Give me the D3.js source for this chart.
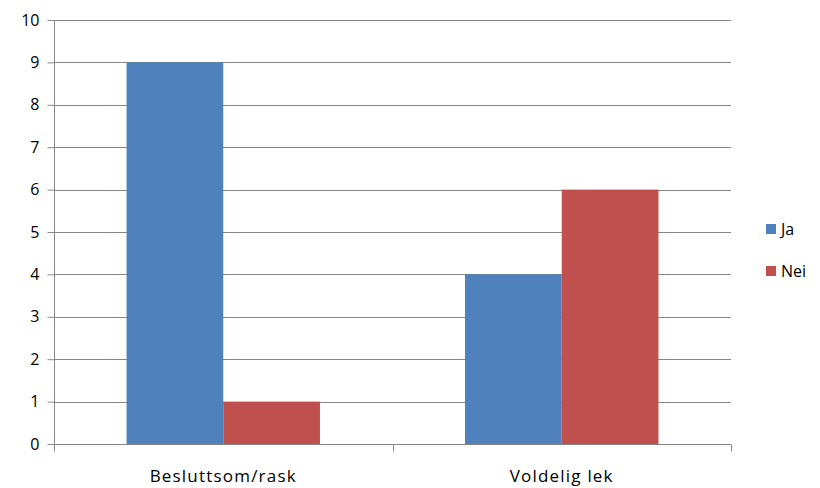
<!DOCTYPE html>
<html>
<head>
<meta charset="utf-8">
<script src="https://cdn.jsdelivr.net/npm/d3@7"></script>
<style>
  body { margin: 0; background: #fff; }
  text { font-family: "Open Sans", "Noto Sans", sans-serif; fill: #000; }
</style>
</head>
<body>
<script>
(() => {
    var categories = ["Besluttsom/rask", "Voldelig lek"];
    var seriesNames = ["Ja", "Nei"];
    var ja = [9, 4];
    var nei = [1, 6];
    var yTicks = [0, 1, 2, 3, 4, 5, 6, 7, 8, 9, 10];
    var colors = ["#4F81BD", "#C0504D"];

    var W = 820, H = 488;
    var margin = { top: 20, bottom: 44, left: 54, right: 89 };
    var w = W - margin.left - margin.right,
        h = H - margin.top - margin.bottom;

    var svg = d3.select("body").append("svg").attr("width", W).attr("height", H);
    var graph = svg.append("g").attr("transform", "translate(" + [margin.left, margin.top] + ")");

    var x = d3.scaleBand().domain(categories).range([0, w]).paddingInner(0).paddingOuter(0);
    var inner = d3.scaleBand().domain(seriesNames).range([0, x.bandwidth()]).paddingInner(0).paddingOuter(0.75);
    var y = d3.scaleLinear().domain([0, 10]).range([h, 0]);

    // gridlines
    graph.selectAll(".grid").data(yTicks).enter().append("line")
        .attr("x1", 0).attr("x2", w)
        .attr("y1", d => Math.round(y(d)) + 0.5).attr("y2", d => Math.round(y(d)) + 0.5)
        .attr("stroke", "#868686").attr("stroke-width", 1);

    var data = categories.map((c, i) => ({ cat: c, vals: [ja[i], nei[i]] }));
    var groups = graph.selectAll(".cat").data(data).enter().append("g")
        .attr("transform", d => "translate(" + x(d.cat) + ",0)");
    groups.selectAll("rect").data(d => d.vals.map((v, j) => ({ s: seriesNames[j], v: v, c: colors[j] })))
        .enter().append("rect")
        .attr("x", d => inner(d.s))
        .attr("width", inner.bandwidth())
        .attr("y", d => y(d.v))
        .attr("height", d => y(0) - y(d.v))
        .attr("fill", d => d.c);

    // y axis
    var yAxis = graph.append("g").attr("transform", "translate(0.5,0)")
        .call(d3.axisLeft(y).tickValues(yTicks).tickSize(7).tickPadding(8).tickFormat(d3.format("d")));
    yAxis.select(".domain").attr("stroke", "#868686").attr("d", "M0," + y(10) + "V" + (y(0) + 0.5));
    yAxis.selectAll(".tick line").attr("stroke", "#868686");
    yAxis.selectAll(".tick text").style("font-size", "16px").attr("fill", "#000");

    // x axis
    var xAxis = graph.append("g").attr("transform", "translate(0," + (Math.round(h) + 0.5) + ")");
    xAxis.append("line").attr("x1", 0).attr("x2", w).attr("stroke", "#868686");
    var bounds = [0].concat(categories.map(c => x(c) + x.bandwidth()));
    xAxis.selectAll(".xt").data(bounds).enter().append("line")
        .attr("x1", d => Math.round(d) + 0.5).attr("x2", d => Math.round(d) + 0.5)
        .attr("y1", 0).attr("y2", 7).attr("stroke", "#868686");
    xAxis.selectAll(".xl").data(categories).enter().append("text")
        .attr("x", d => x(d) + x.bandwidth() / 2)
        .attr("y", 37)
        .attr("text-anchor", "middle")
        .style("font-size", "17px")
        .style("letter-spacing", "1.2px")
        .text(d => d);

    // legend
    var legend = svg.append("g").attr("transform", "translate(766,224)");
    var items = legend.selectAll(".lg").data(seriesNames).enter().append("g")
        .attr("transform", (d, i) => "translate(0," + i * 42 + ")");
    items.append("rect").attr("width", 10).attr("height", 10).attr("fill", (d, i) => colors[i]);
    items.append("text").attr("x", 15).attr("y", 11).style("font-size", "16px").text(d => d);
})()
</script>
</body>
</html>
